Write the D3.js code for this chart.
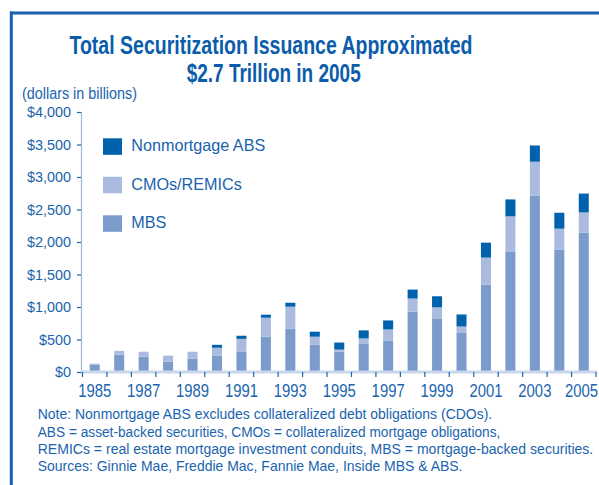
<!DOCTYPE html>
<html>
<head>
<meta charset="utf-8">
<script src="https://cdn.jsdelivr.net/npm/d3@7"></script>
<style>
  html, body { margin: 0; padding: 0; background: #fff; }
  svg { display: block; }
  text { font-family: "Liberation Sans", Arial, sans-serif; }
</style>
</head>
<body>
<svg id="chart" width="599" height="485"></svg>
<script>
// Annual securitization issuance, dollars in billions
const years = d3.range(1985, 2006);
const mbs         = [110, 265, 235, 160, 205, 250, 310, 545, 665, 420, 315, 440, 485, 930, 825, 610, 1345, 1855, 2715, 1885, 2145];
const cmosRemics  = [ 18,  60,  77,  92, 107, 123, 200, 290, 340, 123,  30,  77, 170, 200, 170,  90,  415,  540,  520,  320,  310];
const nonmortgage = [  0,   0,   0,   0,   0,  45,  48,  47,  60,  77, 108, 123, 138, 138, 170, 185,  230,  260,  250,  245,  290];
const yTicks = [0, 500, 1000, 1500, 2000, 2500, 3000, 3500, 4000];
const xLabelYears = [1985, 1987, 1989, 1991, 1993, 1995, 1997, 1999, 2001, 2003, 2005];

const seriesKeys = ["mbs", "cmo", "abs"];
const seriesNames = { abs: "Nonmortgage ABS", cmo: "CMOs/REMICs", mbs: "MBS" };
const colors = { mbs: "#7b9bcb", cmo: "#abbbdf", abs: "#0061ad" };
const textBlue = "#1a64ae";
const titleBlue = "#0b5dab";

const rows = years.map((y, i) => ({ year: y, mbs: mbs[i], cmo: cmosRemics[i], abs: nonmortgage[i] }));
const stacked = d3.stack().keys(seriesKeys)(rows);

const svg = d3.select("#chart");
const W = +svg.attr("width");

// Squeeze text horizontally to a condensed face look
function condense(sel, k) {
  sel.each(function () {
    const w = this.getComputedTextLength();
    d3.select(this).attr("textLength", w * k).attr("lengthAdjust", "spacingAndGlyphs");
  });
}

// Frame rules along the top and left edges
svg.append("line").attr("x1", 10).attr("x2", W).attr("y1", 13).attr("y2", 13)
  .attr("stroke", "#1a5fb0").attr("stroke-width", 3);
svg.append("line").attr("x1", 11.3).attr("x2", 11.3).attr("y1", 11.5).attr("y2", 485)
  .attr("stroke", "#1a5fb0").attr("stroke-width", 3);

// Title
const title = svg.append("text").attr("text-anchor", "middle")
  .attr("fill", titleBlue).attr("font-weight", "bold").attr("font-size", 25);
title.append("tspan").attr("x", 271).attr("y", 54)
  .attr("textLength", 403).attr("lengthAdjust", "spacingAndGlyphs")
  .text("Total Securitization Issuance Approximated");
title.append("tspan").attr("x", 273.7).attr("y", 81.7)
  .attr("textLength", 174).attr("lengthAdjust", "spacingAndGlyphs")
  .text("$2.7 Trillion in 2005");

svg.append("text").attr("x", 22).attr("y", 98.5).attr("fill", textBlue).attr("font-size", 16)
  .attr("textLength", 115).attr("lengthAdjust", "spacingAndGlyphs")
  .text("(dollars in billions)");

// Scales
const x = d3.scaleBand().domain(years).range([82.5, 596]).paddingInner(0.59).paddingOuter(0.295);
const y = d3.scaleLinear().domain([0, 4000]).range([372, 112]);
const step = x.step();
const gap = (step - x.bandwidth()) / 2;

// Y axis
const yAxis = svg.append("g").attr("transform", "translate(81,0)")
  .call(d3.axisLeft(y).tickValues(yTicks).tickSize(4).tickPadding(6)
    .tickFormat(d => "$" + d3.format(",")(d)));
yAxis.select(".domain").attr("stroke", "#9fb6d8").attr("stroke-width", 1.2);
yAxis.selectAll(".tick line").attr("stroke", "#1a64ae").attr("stroke-width", 1.2);
yAxis.selectAll(".tick text").attr("fill", textBlue).attr("font-size", 15.5)
  .attr("font-family", '"Liberation Sans", Arial, sans-serif')
  .attr("dy", "0.3em")
  .call(condense, 0.93);

// Bars
svg.append("g").selectAll("g").data(stacked).join("g")
  .attr("fill", d => colors[d.key])
  .selectAll("rect").data(d => d).join("rect")
  .attr("x", d => x(d.data.year))
  .attr("width", x.bandwidth())
  .attr("y", d => y(d[1]))
  .attr("height", d => Math.max(0, y(d[0]) - y(d[1])));

// Baseline and category ticks between bars
svg.append("line").attr("x1", 81).attr("x2", 597).attr("y1", y(0)).attr("y2", y(0))
  .attr("stroke", "#c9d7ec").attr("stroke-width", 3);
const boundaries = years.map(yr => x(yr) - gap).concat([x(years[years.length - 1]) + x.bandwidth() + gap]);
svg.append("g").selectAll("line").data(boundaries).join("line")
  .attr("x1", d => d).attr("x2", d => d)
  .attr("y1", y(0)).attr("y2", y(0) + 5)
  .attr("stroke", "#1a64ae").attr("stroke-width", 1.2);

// Year labels, narrowed and kept inside the right edge
const yearK = 0.85;
const yearLabels = svg.append("g").selectAll("g").data(xLabelYears).join("g");
yearLabels.append("text")
  .attr("text-anchor", "middle")
  .attr("fill", textBlue).attr("font-size", 17.5)
  .text(d => d);
yearLabels.each(function (d) {
  const half = d3.select(this).select("text").node().getComputedTextLength() * yearK / 2;
  const cx = Math.min(x(d) + x.bandwidth() / 2, W - 1 - half);
  d3.select(this).attr("transform", `translate(${cx},396.5) scale(${yearK},1)`);
});

// Legend
const legendKeys = ["abs", "cmo", "mbs"];
const legend = svg.append("g").selectAll("g").data(legendKeys).join("g")
  .attr("transform", (d, i) => `translate(103,${138.3 + i * 38.5})`);
legend.append("rect").attr("width", 19).attr("height", 16.5).attr("fill", d => colors[d]);
legend.append("text").attr("x", 28.3).attr("y", 13).attr("fill", textBlue).attr("font-size", 16.5)
  .text(d => seriesNames[d])
  .call(condense, 0.98);

// Notes, each line scaled horizontally to its set width
const notes = [
  "Note: Nonmortgage ABS excludes collateralized debt obligations (CDOs).",
  "ABS = asset-backed securities, CMOs = collateralized mortgage obligations,",
  "REMICs = real estate mortgage investment conduits, MBS = mortgage-backed securities.",
  "Sources: Ginnie Mae, Freddie Mac, Fannie Mae, Inside MBS & ABS."
];
const noteWidths = [455, 463, 556, 425];
const noteLines = svg.append("g").selectAll("g").data(notes).join("g");
noteLines.append("text")
  .attr("fill", textBlue).attr("font-size", 14.5)
  .text(d => d);
noteLines.each(function (d, i) {
  const t = d3.select(this).select("text").node();
  const k = noteWidths[i] / t.getComputedTextLength();
  d3.select(this).attr("transform", `translate(37.7,${419.3 + i * 17.3}) scale(${k},1)`);
});
</script>
</body>
</html>
